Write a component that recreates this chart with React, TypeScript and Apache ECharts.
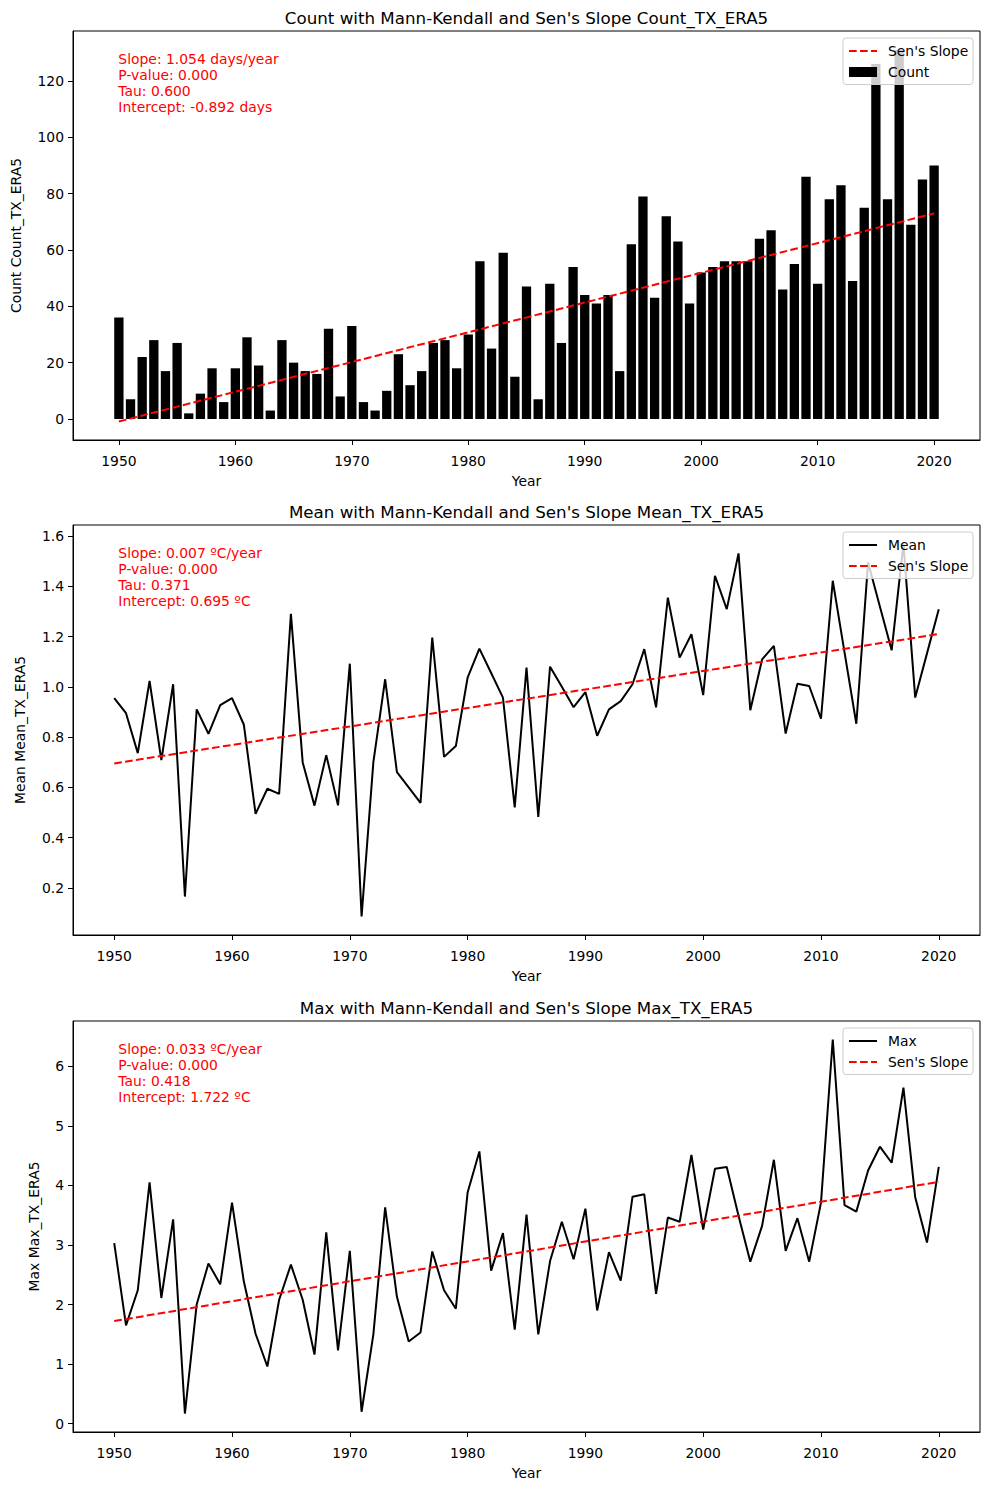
import React, { useEffect, useRef } from "react";
import * as echarts from "echarts";

const countValues = [
  36, 7, 22, 28, 17, 27, 2, 9, 18, 6,
  18, 29, 19, 3, 28, 20, 17, 16, 32, 8,
  33, 6, 3, 10, 23, 12, 17, 27, 28, 18,
  30, 56, 25, 59, 15, 47, 7, 48, 27, 54,
  44, 41, 44, 17, 62, 79, 43, 72, 63, 41,
  52, 54, 56, 56, 56, 64, 67, 46, 55, 86,
  48, 78, 83, 49, 75, 126, 78, 131, 69, 85,
  90,
];
const meanValues = [
  0.955, 0.895, 0.736, 1.023, 0.708, 1.01, 0.165, 0.91, 0.813, 0.927,
  0.955, 0.85, 0.494, 0.594, 0.574, 1.29, 0.699, 0.527, 0.728, 0.528,
  1.092, 0.086, 0.7, 1.03, 0.66, 0.6, 0.538, 1.196, 0.721, 0.764,
  1.036, 1.152, 1.055, 0.957, 0.52, 1.076, 0.482, 1.08, 1.0, 0.919,
  0.979, 0.805, 0.91, 0.943, 1.01, 1.15, 0.918, 1.355, 1.116, 1.209,
  0.967, 1.442, 1.309, 1.531, 0.907, 1.109, 1.163, 0.814, 1.012, 1.003,
  0.873, 1.422, 1.137, 0.853, 1.495, 1.32, 1.145, 1.57, 0.957, 1.133,
  1.309,
];
const maxValues = [
  3.03, 1.65, 2.24, 4.05, 2.11, 3.43, 0.17, 2.0, 2.69, 2.34,
  3.71, 2.39, 1.51, 0.96, 2.08, 2.67, 2.08, 1.16, 3.21, 1.23,
  2.9, 0.2, 1.5, 3.63, 2.13, 1.38, 1.53, 2.89, 2.24, 1.93,
  3.88, 4.57, 2.57, 3.2, 1.58, 3.51, 1.5, 2.73, 3.39, 2.76,
  3.61, 1.9, 2.88, 2.4, 3.81, 3.85, 2.18, 3.46, 3.39, 4.51,
  3.26, 4.28, 4.31, 3.49, 2.72, 3.32, 4.43, 2.9, 3.45, 2.72,
  3.71, 6.45, 3.67, 3.56, 4.25, 4.65, 4.38, 5.64, 3.8, 3.04,
  4.31,
];
const startYear = 1950;
const years = countValues.map((_, i) => startYear + i);
const yearTicks = [1950, 1960, 1970, 1980, 1990, 2000, 2010, 2020];
const countTicks = [0, 20, 40, 60, 80, 100, 120];
const meanTicks = [0.2, 0.4, 0.6, 0.8, 1.0, 1.2, 1.4, 1.6];
const maxTicks = [0, 1, 2, 3, 4, 5, 6];

// Sen's slope line end values (first year, last year)
const senYears = [1950, 2020];
const senCount = [-0.892, 73.0];
const senMean = [0.695, 1.21];
const senMax = [1.722, 4.06];

const statsCount = ["Slope: 1.054 days/year", "P-value: 0.000", "Tau: 0.600", "Intercept: -0.892 days"];
const statsMean = ["Slope: 0.007 ºC/year", "P-value: 0.000", "Tau: 0.371", "Intercept: 0.695 ºC"];
const statsMax = ["Slope: 0.033 ºC/year", "P-value: 0.000", "Tau: 0.418", "Intercept: 1.722 ºC"];

const titles = [
  "Count with Mann-Kendall and Sen's Slope Count_TX_ERA5",
  "Mean with Mann-Kendall and Sen's Slope Mean_TX_ERA5",
  "Max with Mann-Kendall and Sen's Slope Max_TX_ERA5",
];
const yNames = ["Count Count_TX_ERA5", "Mean Mean_TX_ERA5", "Max Max_TX_ERA5"];
// legend entries per panel: [label, kind]
const legendItems = [
  [["Sen's Slope", "sen"], ["Count", "bar"]],
  [["Mean", "line"], ["Sen's Slope", "sen"]],
  [["Max", "line"], ["Sen's Slope", "sen"]],
];

const FONT = "DejaVu Sans";
const W = 990;
const H = 1489;
const LEFT = 73;
const RIGHT = 980;
const panels = [
  { top: 31, bottom: 440, xMin: 1946.06, xMax: 2023.94, yMin: -7.46, yMax: 137.75, yNameX: 16 },
  { top: 525, bottom: 935, xMin: 1946.5, xMax: 2023.5, yMin: 0.012, yMax: 1.644, yNameX: 20 },
  { top: 1021, bottom: 1432, xMin: 1946.5, xMax: 2023.5, yMin: -0.14, yMax: 6.76, yNameX: 34 },
];
const yTickSets = [countTicks, meanTicks, maxTicks];
const yFormat = [
  (v: number) => String(Math.round(v)),
  (v: number) => v.toFixed(1),
  (v: number) => String(Math.round(v)),
];

function pairs(xs: number[], ys: number[]) {
  return xs.map((x, i) => [x, ys[i]]);
}

export default function App() {
  const ref = useRef<HTMLDivElement>(null);
  useEffect(() => {
    if (!ref.current) return;
    const chart = echarts.init(ref.current, null, { renderer: "svg" });
    const cx = (LEFT + RIGHT) / 2;

    const grid = panels.map((p) => ({
      left: LEFT,
      top: p.top,
      width: RIGHT - LEFT,
      height: p.bottom - p.top,
      show: true,
      borderColor: "#000",
      borderWidth: 1,
      backgroundColor: "transparent",
      containLabel: false,
    }));

    const xAxis = panels.map((p, i) => ({
      type: "value",
      gridIndex: i,
      min: p.xMin,
      max: p.xMax,
      splitLine: { show: false },
      axisLine: { show: true, onZero: false, lineStyle: { color: "#000", width: 1 } },
      axisTick: { show: true, length: 5, lineStyle: { color: "#000" }, customValues: yearTicks },
      axisLabel: {
        color: "#000",
        fontSize: 13.9,
        fontFamily: FONT,
        margin: 14,
        customValues: yearTicks,
        formatter: (v: number) => String(v),
      },
    }));

    const yAxis = panels.map((p, i) => ({
      type: "value",
      gridIndex: i,
      min: p.yMin,
      max: p.yMax,
      splitLine: { show: false },
      axisLine: { show: true, onZero: false, lineStyle: { color: "#000", width: 1 } },
      axisTick: { show: true, length: 5, lineStyle: { color: "#000" }, customValues: yTickSets[i] },
      axisLabel: {
        color: "#000",
        fontSize: 13.9,
        fontFamily: FONT,
        margin: 9,
        customValues: yTickSets[i],
        formatter: yFormat[i],
      },
    }));

    const senStyle = { color: "#ff0000", width: 2, type: [7.7, 3.3] };
    const series: any[] = [
      {
        name: "Count",
        type: "bar",
        xAxisIndex: 0,
        yAxisIndex: 0,
        data: pairs(years, countValues),
        barWidth: 9.3,
        itemStyle: { color: "#000" },
        z: 2,
      },
      {
        name: "Sen's Slope",
        type: "line",
        xAxisIndex: 0,
        yAxisIndex: 0,
        data: pairs(senYears, senCount),
        symbol: "none",
        lineStyle: senStyle,
        z: 3,
      },
      {
        name: "Mean",
        type: "line",
        xAxisIndex: 1,
        yAxisIndex: 1,
        data: pairs(years, meanValues),
        symbol: "none",
        lineStyle: { color: "#000", width: 2 },
        z: 2,
      },
      {
        name: "Sen's Slope",
        type: "line",
        xAxisIndex: 1,
        yAxisIndex: 1,
        data: pairs(senYears, senMean),
        symbol: "none",
        lineStyle: senStyle,
        z: 3,
      },
      {
        name: "Max",
        type: "line",
        xAxisIndex: 2,
        yAxisIndex: 2,
        data: pairs(years, maxValues),
        symbol: "none",
        lineStyle: { color: "#000", width: 2 },
        z: 2,
      },
      {
        name: "Sen's Slope",
        type: "line",
        xAxisIndex: 2,
        yAxisIndex: 2,
        data: pairs(senYears, senMax),
        symbol: "none",
        lineStyle: senStyle,
        z: 3,
      },
    ];

    const stats = [statsCount, statsMean, statsMax];
    const graphic: any[] = [];
    panels.forEach((p, i) => {
      graphic.push({
        type: "text",
        x: cx,
        y: p.top - 13,
        style: {
          text: titles[i],
          textAlign: "center",
          textVerticalAlign: "middle",
          fontSize: 16.7,
          fontFamily: FONT,
          fill: "#000",
        },
      });
      graphic.push({
        type: "text",
        x: cx,
        y: p.bottom + 41,
        style: {
          text: "Year",
          textAlign: "center",
          textVerticalAlign: "middle",
          fontSize: 13.9,
          fontFamily: FONT,
          fill: "#000",
        },
      });
      graphic.push({
        type: "text",
        x: p.yNameX,
        y: (p.top + p.bottom) / 2,
        rotation: Math.PI / 2,
        style: {
          text: yNames[i],
          textAlign: "center",
          textVerticalAlign: "middle",
          fontSize: 13.9,
          fontFamily: FONT,
          fill: "#000",
        },
      });
      graphic.push({
        type: "text",
        x: LEFT + 0.05 * (RIGHT - LEFT),
        y: p.top + 20,
        z: 20,
        style: {
          text: stats[i].join("\n"),
          fontSize: 13.9,
          lineHeight: 16,
          fontFamily: FONT,
          fill: "#ff0000",
          textVerticalAlign: "top",
        },
      });

      // legend box
      const bx = 843;
      const by = p.top + 7;
      graphic.push({
        type: "rect",
        z: 50,
        shape: { x: bx, y: by, width: 130, height: 46.5, r: 3 },
        style: { fill: "rgba(255,255,255,0.8)", stroke: "#cccccc", lineWidth: 1 },
      });
      legendItems[i].forEach((item, j) => {
        const cy = by + 13 + j * 21;
        const kind = item[1];
        if (kind === "bar") {
          graphic.push({
            type: "rect",
            z: 51,
            shape: { x: bx + 6, y: cy - 5, width: 28, height: 10 },
            style: { fill: "#000" },
          });
        } else {
          graphic.push({
            type: "line",
            z: 51,
            shape: { x1: bx + 6, y1: cy, x2: bx + 34, y2: cy },
            style: {
              stroke: kind === "sen" ? "#ff0000" : "#000",
              lineWidth: 2,
              lineDash: kind === "sen" ? [7.7, 3.3] : null,
            },
          });
        }
        graphic.push({
          type: "text",
          z: 51,
          x: bx + 45,
          y: cy,
          style: {
            text: item[0],
            fontSize: 13.9,
            fontFamily: FONT,
            fill: "#000",
            textVerticalAlign: "middle",
          },
        });
      });
    });

    chart.setOption({
      animation: false,
      backgroundColor: "#fff",
      textStyle: { fontFamily: FONT },
      grid,
      xAxis,
      yAxis,
      series,
      graphic,
    });
    return () => chart.dispose();
  }, []);
  return (
    <div
      ref={ref}
      style={{ position: "absolute", left: 0, top: 0, width: W, height: H }}
    />
  );
}
